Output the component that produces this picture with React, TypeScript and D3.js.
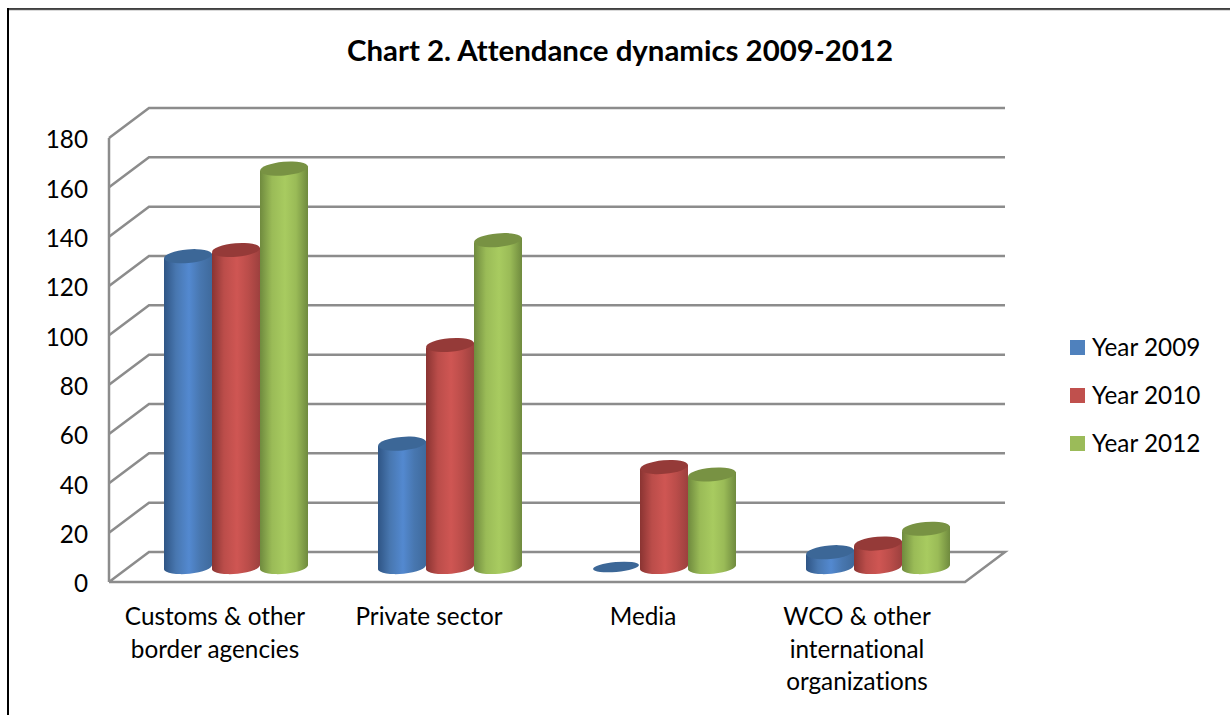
import { useEffect, useRef } from "react";
import * as d3 from "d3";

const categories = ["Customs & other border agencies", "Private sector", "Media", "WCO & other international organizations"];
const categoryLines = [
  ["Customs & other", "border agencies"],
  ["Private sector"],
  ["Media"],
  ["WCO & other", "international", "organizations"],
];
const seriesNames = ["Year 2009", "Year 2010", "Year 2012"];
const year2009 = [126, 50, 0, 6];
const year2010 = [128.5, 90, 40.5, 9.5];
const year2012 = [161.5, 132.5, 37.5, 15.5];
const yTicks = [0, 20, 40, 60, 80, 100, 120, 140, 160, 180];

// [legend, shaded edge, middle, other edge, cap]
const palette = [
  { id: "b", legend: "#4f81bd", left: "#2f5585", soft: "#4877b0", mid: "#5389d0", right: "#3f6a9c", cap: "#3c6797" },
  { id: "r", legend: "#c0504d", left: "#8a3432", soft: "#bb4d4a", mid: "#cf5653", right: "#9c403e", cap: "#953a38" },
  { id: "g", legend: "#9bbb59", left: "#6f8a3e", soft: "#9abb57", mid: "#a8cb60", right: "#6f8a3e", cap: "#789243" },
];

const FONT = "Lato, 'Open Sans', sans-serif";
const GRID = "#8c8c8c";

export default function App() {
  const reference = useRef<SVGSVGElement>(null);

  useEffect(() => {
    const width = 1230;
    const height = 715;
    const svg = d3.select(reference.current);
    svg.selectAll("*").remove();
    svg.attr("width", width).attr("height", height).style("font-variant-ligatures", "none");

    // 3D offset of the back wall
    const depthX = 40;
    const depthY = -30;

    const y = d3.scaleLinear().domain([0, 180]).range([582, 138]);
    const x0 = d3.scaleBand().domain(categories).range([109, 965]);
    const x1 = d3
      .scaleBand()
      .domain(seriesNames)
      .range([0, 144])
      .paddingInner(0);

    // page frame
    svg.append("line").attr("x1", 8).attr("x2", 1230).attr("y1", 9.8).attr("y2", 9.8).attr("stroke", "#808080").attr("stroke-width", 1);
    svg.append("line").attr("x1", 7).attr("x2", 1230).attr("y1", 8.8).attr("y2", 8.8).attr("stroke", "#000").attr("stroke-width", 1.3);
    svg.append("line").attr("x1", 8).attr("x2", 8).attr("y1", 8).attr("y2", 715).attr("stroke", "#000").attr("stroke-width", 2);

    svg
      .append("text")
      .text("Chart 2. Attendance dynamics 2009-2012")
      .attr("x", 620)
      .attr("y", 61)
      .attr("text-anchor", "middle")
      .style("font-family", FONT)
      .style("font-weight", "700")
      .style("font-size", "29.4px")
      .style("fill", "#000");

    // walls
    const grid = svg.append("g").attr("fill", "none").attr("stroke", GRID).attr("stroke-width", 2.5);
    yTicks.forEach((t) => {
      const yy = y(t);
      if (t === 0) {
        grid
          .append("path")
          .attr("d", `M109,${yy}L${109 + depthX},${yy + depthY}H${965 + depthX}L965,${yy}H109`);
      } else {
        grid
          .append("path")
          .attr("d", `M109,${yy}L${109 + depthX},${yy + depthY}H${965 + depthX}`);
      }
    });
    grid.append("line").attr("x1", 109).attr("x2", 109).attr("y1", y(180)).attr("y2", y(0));

    const axis = svg
      .append("g")
      .attr("transform", "translate(94,2)")
      .call(d3.axisLeft(y).tickValues(yTicks).tickSize(0).tickPadding(6));
    axis.select(".domain").remove();
    axis
      .selectAll("text")
      .style("font-family", FONT)
      .style("font-size", "24.3px")
      .style("fill", "#000");
    axis.attr("text-anchor", "end");

    // gradients
    const defs = svg.append("defs");
    palette.forEach((p) => {
      const g = defs.append("linearGradient").attr("id", `cyl-${p.id}`);
      g.append("stop").attr("offset", "0%").attr("stop-color", p.left);
      g.append("stop").attr("offset", "25%").attr("stop-color", p.soft);
      g.append("stop").attr("offset", "52%").attr("stop-color", p.mid);
      g.append("stop").attr("offset", "75%").attr("stop-color", p.soft);
      g.append("stop").attr("offset", "100%").attr("stop-color", p.right);
    });

    const allSeries = [year2009, year2010, year2012];
    const r = x1.bandwidth() / 2;
    const ry = 6.8;
    const tilt = 2.4;
    const angle = -5;
    const shiftX = 20;
    const shiftY = depthY / 2;

    categories.forEach((c, ci) => {
      const groupX = (x0(c) as number) + (x0.bandwidth() - 144) / 2 + shiftX;
      seriesNames.forEach((s, si) => {
        const v = allSeries[si][ci];
        const p = palette[si];
        const cx = groupX + (x1(s) as number) + r;
        const by = y(0) + shiftY;
        const ty = y(v) + shiftY;
        if (v > 0) {
          svg
            .append("path")
            .attr(
              "d",
              `M${cx - r},${ty + tilt}L${cx - r},${by + tilt}A${r},${ry} ${angle} 0 0 ${cx + r},${by - tilt}L${cx + r},${ty - tilt}Z`
            )
            .attr("fill", `url(#cyl-${p.id})`);
        }
        svg
          .append("ellipse")
          .attr("cx", 0)
          .attr("cy", 0)
          .attr("rx", v > 0 ? r : r - 1)
          .attr("ry", v > 0 ? ry : 5)
          .attr("transform", `translate(${cx},${ty}) rotate(${angle})`)
          .attr("fill", p.cap);
      });
    });

    // category labels
    categories.forEach((c, ci) => {
      const cx = (x0(c) as number) + x0.bandwidth() / 2 - 1;
      categoryLines[ci].forEach((line, li) => {
        svg
          .append("text")
          .text(line)
          .attr("x", cx)
          .attr("y", 625 + li * 32.5)
          .attr("text-anchor", "middle")
          .style("font-family", FONT)
          .style("font-size", "24.3px")
          .style("fill", "#000");
      });
    });

    // legend
    const legend = svg
      .selectAll("g.legend")
      .data(seriesNames)
      .enter()
      .append("g")
      .attr("class", "legend")
      .attr("transform", (d, i) => `translate(1070,${340 + i * 48})`);
    legend
      .append("rect")
      .attr("width", 15)
      .attr("height", 15)
      .attr("fill", (d, i) => palette[i].legend);
    legend
      .append("text")
      .text((d) => d)
      .attr("x", 22)
      .attr("y", 16)
      .style("font-family", FONT)
      .style("font-size", "24.3px")
      .style("fill", "#000");
  }, []);

  return <svg ref={reference} style={{ position: "absolute", left: 0, top: 0, display: "block" }}></svg>;
}
